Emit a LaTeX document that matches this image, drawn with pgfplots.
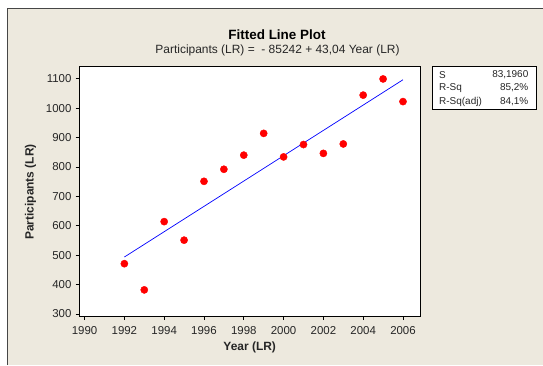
\documentclass[border=0pt]{standalone}
\usepackage{fontspec}
\setmainfont{Liberation Sans}
\usepackage{pgfplots}
\pgfplotsset{compat=1.18}
\definecolor{bgc}{RGB}{237,233,222}
\definecolor{brd}{RGB}{70,70,70}
\begin{document}
\begin{tikzpicture}[x=1bp,y=1bp]
\useasboundingbox (0,0) rectangle (543,365);
\fill[white] (0,0) rectangle (543,365);
\fill[bgc] (7.3,0) rectangle (543,357.2);
\draw[brd, line width=1bp] (7.8,0) -- (7.8,356.7) -- (543,356.7);
\begin{axis}[
  at={(79bp,48.5bp)}, anchor=south west,
  scale only axis, width=341.5bp, height=250.5bp,
  xmin=1989.72, xmax=2006.88, ymin=291.5, ymax=1143,
  xtick={1990,1992,...,2006}, ytick={300,400,...,1100},
  axis background/.style={fill=white},
  tick align=outside, xtick pos=bottom, ytick pos=left,
  major tick length=3.5bp,
  tick style={black, line width=0.8bp},
  axis line style={black, line width=0.9bp},
  /pgf/number format/1000 sep={},
  /pgf/number format/assume math mode=true,
  ticklabel style={font=\fontsize{11.5}{12}\selectfont, text=black!85},
  xticklabel style={yshift=-3bp},
  yticklabel style={xshift=-0.5bp},
]
\addplot[only marks, mark=*, mark size=3.6bp, mark options={fill=red, draw=red}] coordinates {
(1992,471) (1993,382) (1994,614) (1995,551) (1996,751) (1997,792) (1998,840)
(1999,914) (2000,834) (2001,876) (2002,846) (2003,878) (2004,1044) (2005,1099) (2006,1022)
};
\addplot[blue, line width=0.7bp] coordinates {(1992,493.68) (2006,1096.24)};
\end{axis}
\node[font=\bfseries\fontsize{13.5}{14}\selectfont] at (277,330.5) {Fitted Line Plot};
\node[font=\fontsize{12}{13}\selectfont, text=black!85] at (277.5,314.5) {Participants (LR) =\ \ - 85242 + 43,04 Year (LR)};
\node[font=\bfseries\fontsize{12}{13}\selectfont, text=black!85, rotate=90] at (30.5,173) {Participants (LR)};
\node[font=\bfseries\fontsize{12}{13}\selectfont, text=black!85] at (249.7,17.7) {Year (LR)};
\draw[fill=white, line width=0.9bp] (432.7,299) rectangle (536.5,256);
\begin{scope}[every node/.style={font=\fontsize{10}{11}\selectfont, text=black!85, inner sep=0pt}]
\node[anchor=west] at (439,290) {S};
\node[anchor=west] at (439,277) {R-Sq};
\node[anchor=west] at (439,263.5) {R-Sq(adj)};
\node[anchor=east] at (528.5,290) {83,1960};
\node[anchor=east] at (528.5,277) {85,2\%};
\node[anchor=east] at (528.5,263.5) {84,1\%};
\end{scope}
\end{tikzpicture}
\end{document}
